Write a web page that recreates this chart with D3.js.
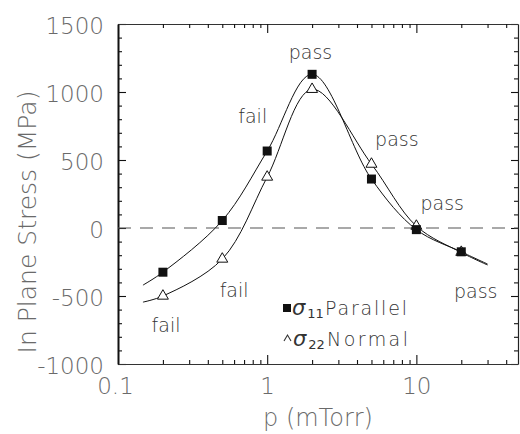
<!DOCTYPE html>
<html>
<head>
<meta charset="utf-8">
<script src="https://cdn.jsdelivr.net/npm/d3@7"></script>
<style>
  html, body { margin: 0; padding: 0; background: #fff; }
  svg { display: block; }
  text { font-family: "DejaVu Sans", "Liberation Sans", sans-serif; }
</style>
</head>
<body>
<svg id="chart" width="520" height="434"></svg>
<script>
// ---- data ----
const pressure = [0.2, 0.5, 1, 2, 5, 10, 20];
const sigma11 = [-325, 55, 566, 1130, 360, -12, -175];
const sigma22 = [-500, -228, 375, 1020, 470, 14, -178];

// smooth fitted curves as drawn in the figure
const fitPressure = [0.147, 0.2, 0.5, 1, 2, 5, 10, 20, 30];
const fit11 = [-420, -325, 55, 566, 1130, 360, -12, -175, -265];
const fit22 = [-545, -500, -228, 375, 1020, 470, 14, -180, -272];

const yTickValues = [-1000, -500, 0, 500, 1000, 1500];
const yTickLabels = ["-1000", "-500", "0", "500", "1000", "1500"];
const xTickValues = [0.1, 1, 10];
const xTickLabels = ["0.1", "1", "10"];

const annotations = [
  {text: "fail", p: 0.21, v: -765},
  {text: "fail", p: 0.6, v: -507},
  {text: "fail", p: 0.8, v: 772},
  {text: "pass", p: 1.95, v: 1243},
  {text: "pass", p: 7.4, v: 603},
  {text: "pass", p: 14.9, v: 132},
  {text: "pass", p: 25, v: -515}
];

// ---- layout ----
const svg = d3.select("#chart");
const pL = 118, pR = 518, pT = 24, pB = 364;
const x = d3.scaleLog().domain([0.1, 48]).range([pL, pR]);
const y = d3.scaleLinear().domain([-1000, 1500]).range([pB, pT]);

const minorY = d3.range(-1000, 1501, 100).filter(v => v % 500 !== 0);
const minorX = [];
[0.1, 1, 10].forEach(d => { for (let k = 2; k <= 9; k++) { const v = d * k; if (v <= 48) minorX.push(v); } });

const labelColor = "#6a6a6a";

// left axis
const gL = svg.append("g").attr("transform", `translate(${pL},0)`);
gL.call(d3.axisLeft(y).tickValues(yTickValues).tickSize(-8).tickSizeOuter(0).tickPadding(14)
  .tickFormat((d, i) => yTickLabels[i]));
gL.select(".domain").attr("stroke", "#111").attr("stroke-width", 2);
gL.selectAll(".tick text").attr("font-size", 23).attr("font-weight", 200).attr("fill", labelColor)
  .attr("dy", "0.42em");
svg.append("g").attr("transform", `translate(${pL},0)`)
  .call(d3.axisLeft(y).tickValues(minorY).tickSize(-4).tickSizeOuter(0).tickFormat(""))
  .call(g => g.select(".domain").remove());

// right axis
const gR = svg.append("g").attr("transform", `translate(${pR},0)`);
gR.call(d3.axisRight(y).tickValues(yTickValues).tickSize(-7).tickSizeOuter(0).tickFormat(""));
gR.select(".domain").attr("stroke", "#222").attr("stroke-width", 1.2);
svg.append("g").attr("transform", `translate(${pR},0)`)
  .call(d3.axisRight(y).tickValues(minorY).tickSize(-4).tickSizeOuter(0).tickFormat(""))
  .call(g => g.select(".domain").remove());

// bottom axis
const gB = svg.append("g").attr("transform", `translate(0,${pB})`);
gB.call(d3.axisBottom(x).tickValues(xTickValues).tickSize(-9).tickSizeOuter(0).tickPadding(14)
  .tickFormat((d, i) => xTickLabels[i]));
gB.select(".domain").attr("stroke", "#333").attr("stroke-width", 1.1);
gB.selectAll(".tick text").attr("font-size", 23).attr("font-weight", 200).attr("fill", labelColor);
gB.selectAll(".tick").filter(d => d === 0.1).select("line").remove();
gB.selectAll(".tick").filter(d => d === 0.1).select("text").attr("dx", -3);
svg.append("g").attr("transform", `translate(0,${pB})`)
  .call(d3.axisBottom(x).tickValues(minorX).tickSize(-4).tickSizeOuter(0).tickFormat(""))
  .call(g => g.select(".domain").remove());

// top axis
const gT = svg.append("g").attr("transform", `translate(0,${pT})`);
gT.call(d3.axisTop(x).tickValues([1, 10]).tickSize(-9).tickSizeOuter(0).tickFormat(""));
gT.select(".domain").attr("stroke", "#333").attr("stroke-width", 1.1);
svg.append("g").attr("transform", `translate(0,${pT})`)
  .call(d3.axisTop(x).tickValues(minorX).tickSize(-4).tickSizeOuter(0).tickFormat(""))
  .call(g => g.select(".domain").remove());

svg.selectAll(".tick line").attr("stroke", "#111").attr("stroke-width", 1.1);

// axis titles
svg.append("text")
  .attr("transform", `translate(36,${(pT + pB) / 2 + 28}) rotate(-90)`)
  .attr("text-anchor", "middle")
  .attr("font-size", 25).attr("font-weight", 200).attr("fill", labelColor)
  .text("In Plane Stress (MPa)");
svg.append("text")
  .attr("x", 318).attr("y", 426)
  .attr("text-anchor", "middle")
  .attr("font-size", 24).attr("font-weight", 200).attr("fill", labelColor)
  .text("p (mTorr)");

// zero dashed line
svg.append("line")
  .attr("x1", pL).attr("x2", pR).attr("y1", y(0)).attr("y2", y(0))
  .attr("stroke", "#555").attr("stroke-width", 1.2).attr("stroke-dasharray", "13,9");

// fitted curves
const line = d3.line().x(d => x(d[0])).y(d => y(d[1])).curve(d3.curveCatmullRom.alpha(0.5));
svg.append("path").datum(fitPressure.map((p, i) => [p, fit11[i]]))
  .attr("d", line).attr("fill", "none").attr("stroke", "#111").attr("stroke-width", 1);
svg.append("path").datum(fitPressure.map((p, i) => [p, fit22[i]]))
  .attr("d", line).attr("fill", "none").attr("stroke", "#111").attr("stroke-width", 1);

// triangles (sigma22)
const tri = d3.symbol().type(d3.symbolTriangle).size(52);
svg.selectAll(".tri").data(pressure.map((p, i) => [p, sigma22[i]])).enter()
  .append("path").attr("class", "tri")
  .attr("transform", d => `translate(${x(d[0])},${y(d[1])})`)
  .attr("d", tri).attr("fill", "#fff").attr("stroke", "#111").attr("stroke-width", 1);

// squares (sigma11)
const sq = 9;
svg.selectAll(".sq").data(pressure.map((p, i) => [p, sigma11[i]])).enter()
  .append("rect").attr("class", "sq")
  .attr("x", d => x(d[0]) - sq / 2).attr("y", d => y(d[1]) - sq / 2)
  .attr("width", sq).attr("height", sq).attr("fill", "#111");

// pass / fail annotations
svg.selectAll(".ann").data(annotations).enter()
  .append("text").attr("class", "ann")
  .attr("x", d => x(d.p)).attr("y", d => y(d.v))
  .attr("text-anchor", "middle")
  .attr("font-size", 19).attr("font-weight", 200).attr("fill", "#333")
  .text(d => d.text);

// legend
const lg = svg.append("g");
lg.append("rect").attr("x", 283).attr("y", 304).attr("width", 8).attr("height", 8).attr("fill", "#111");
const l1 = lg.append("text").attr("x", 292).attr("y", 315).attr("font-size", 19).attr("fill", "#333");
l1.append("tspan").attr("font-style", "italic").attr("font-size", 21).text("σ");
l1.append("tspan").attr("font-size", 13).attr("dy", 3).attr("dx", 2).text("11");
lg.append("text").attr("x", 325).attr("y", 315).attr("font-size", 19).attr("font-weight", 200)
  .attr("fill", "#333").attr("textLength", 82).attr("lengthAdjust", "spacing").text("Parallel");

// open-triangle legend marker (printed as a caret in the figure)
lg.append("path").attr("d", "M284,341 L287.5,335 L291,341")
  .attr("fill", "none").attr("stroke", "#333").attr("stroke-width", 1.1);
const l2 = lg.append("text").attr("x", 293).attr("y", 346).attr("font-size", 19).attr("fill", "#333");
l2.append("tspan").attr("font-style", "italic").attr("font-size", 21).text("σ");
l2.append("tspan").attr("font-size", 13).attr("dy", 3).attr("dx", 2).text("22");
lg.append("text").attr("x", 327).attr("y", 346).attr("font-size", 19).attr("font-weight", 200)
  .attr("fill", "#333").attr("textLength", 81).attr("lengthAdjust", "spacing").text("Normal");
</script>
</body>
</html>
